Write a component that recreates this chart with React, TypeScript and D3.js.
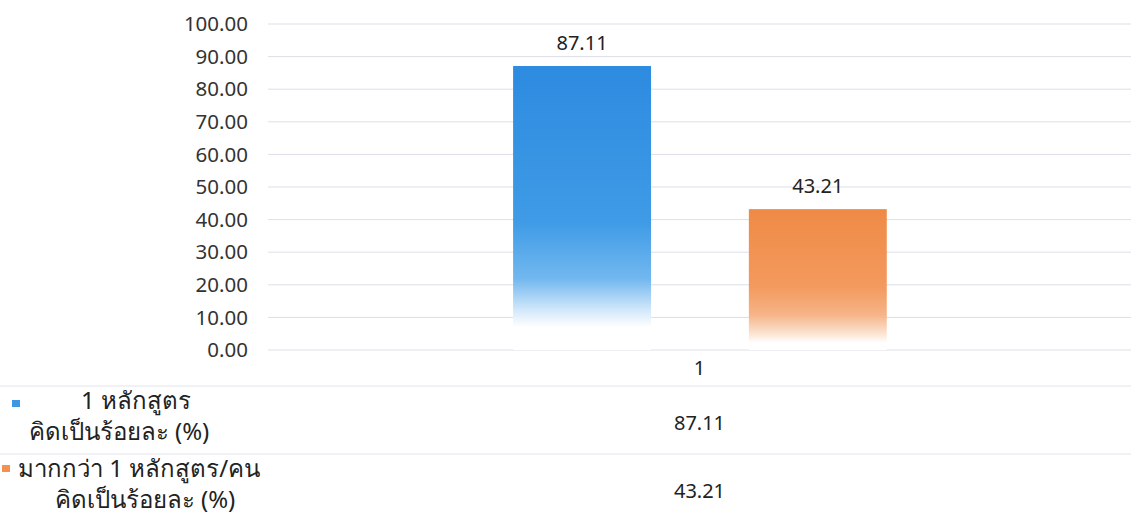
import React from "react";
import * as d3 from "d3";

const categories = ["1"];
const seriesNames = ["1 หลักสูตร คิดเป็นร้อยละ (%)", "มากกว่า 1 หลักสูตร/คน คิดเป็นร้อยละ (%)"];
const seriesValues = [87.11, 43.21];
const yTicks = [0, 10, 20, 30, 40, 50, 60, 70, 80, 90, 100];
const legendLines = [
  ["1 หลักสูตร", "คิดเป็นร้อยละ (%)"],
  ["มากกว่า 1 หลักสูตร/คน", "คิดเป็นร้อยละ (%)"],
];

const W = 1131;
const H = 515;
const FONT = "'Noto Sans', 'Liberation Sans', sans-serif";

export default function App() {
  const plotLeft = 268;
  const plotRight = 1131;
  const y = d3.scaleLinear().domain([0, 100]).range([350, 24]);
  const x0 = d3.scaleBand().domain(categories).range([plotLeft, plotRight]).paddingInner(0).paddingOuter(0);
  const bw0 = x0.bandwidth();
  const x1 = d3
    .scaleBand()
    .domain(seriesNames)
    .range([bw0 * 0.284, bw0 * 0.717])
    .paddingInner(0.415)
    .paddingOuter(0);

  const gradIds = ["gBlue", "gOrange"];
  const swatch = ["#3d97e3", "#f39150"];
  const rowTops = [386, 454];
  const legendX = [
    [136, 119],
    [139, 145],
  ];
  const swatchPos = [
    [12, 400],
    [2, 465],
  ];

  return (
    <svg width={W} height={H} style={{ position: "absolute", left: 0, top: 0, background: "#fff" }}>
      <defs>
        <linearGradient id="gBlue" x1="0" y1="0" x2="0" y2="1">
          <stop offset="0" stopColor="#2d8be0" />
          <stop offset="0.55" stopColor="#3f9be6" />
          <stop offset="0.75" stopColor="#72b8ef" />
          <stop offset="0.86" stopColor="#d3e8fa" />
          <stop offset="0.92" stopColor="#ffffff" />
          <stop offset="1" stopColor="#ffffff" />
        </linearGradient>
        <linearGradient id="gOrange" x1="0" y1="0" x2="0" y2="1">
          <stop offset="0" stopColor="#ef8a45" />
          <stop offset="0.55" stopColor="#f39a5e" />
          <stop offset="0.75" stopColor="#f6b488" />
          <stop offset="0.88" stopColor="#fbe2d0" />
          <stop offset="0.95" stopColor="#ffffff" />
          <stop offset="1" stopColor="#ffffff" />
        </linearGradient>
      </defs>

      {yTicks.map((t) => (
        <g key={t}>
          <line x1={plotLeft} x2={plotRight} y1={y(t)} y2={y(t)} stroke="#dcdfe8" strokeWidth={1} />
          <text x={248} y={y(t)} dy="0.35em" textAnchor="end" fontFamily={FONT} fontSize={20.5} fill="#333">
            {t.toFixed(2)}
          </text>
        </g>
      ))}

      {categories.map((c) => (
        <g key={c} transform={`translate(${x0(c)},0)`}>
          {seriesNames.map((s, i) => {
            const v = seriesValues[i];
            const bx = x1(s)!;
            const bw = x1.bandwidth();
            return (
              <g key={s}>
                <rect x={bx} y={y(v)} width={bw} height={y(0) - y(v)} fill={`url(#${gradIds[i]})`} />
                <text x={bx + bw / 2} y={y(v) - 23} dy="0.35em" textAnchor="middle" fontFamily={FONT} fontSize={20} fill="#222">
                  {v.toFixed(2)}
                </text>
              </g>
            );
          })}
          <text x={bw0 / 2} y={368} dy="0.35em" textAnchor="middle" fontFamily={FONT} fontSize={20} fill="#222">
            {c}
          </text>
        </g>
      ))}

      {rowTops.map((ry, i) => (
        <line key={i} x1={0} x2={W} y1={ry} y2={ry} stroke="#e2e4ea" strokeWidth={1} />
      ))}

      {seriesNames.map((s, i) => (
        <g key={s}>
          <rect x={swatchPos[i][0]} y={swatchPos[i][1]} width={8} height={7} fill={swatch[i]} />
          <text x={legendX[i][0]} y={rowTops[i] + 15} dy="0.35em" textAnchor="middle" fontFamily={FONT} fontSize={24} fill="#222">
            {legendLines[i][0]}
          </text>
          <text x={legendX[i][1]} y={rowTops[i] + 46} dy="0.35em" textAnchor="middle" fontFamily={FONT} fontSize={24} fill="#222">
            {legendLines[i][1]}
          </text>
          <text
            x={x0(categories[0])! + bw0 / 2}
            y={rowTops[i] + 37}
            dy="0.35em"
            textAnchor="middle"
            fontFamily={FONT}
            fontSize={20}
            fill="#222"
          >
            {seriesValues[i].toFixed(2)}
          </text>
        </g>
      ))}
    </svg>
  );
}
